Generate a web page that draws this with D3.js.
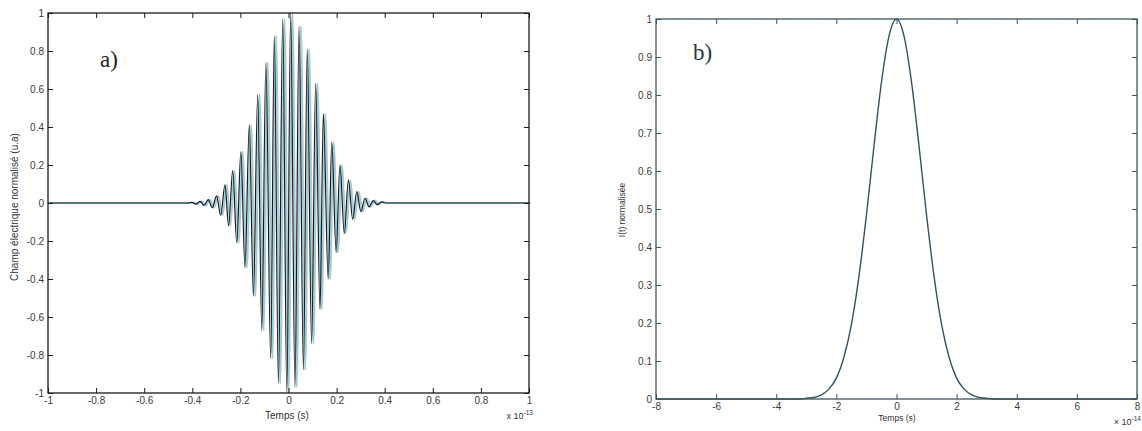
<!DOCTYPE html>
<html>
<head>
<meta charset="utf-8">
<script src="https://cdn.jsdelivr.net/npm/d3@7"></script>
<style>
  body { margin: 0; background: #fff; }
  .tick text { font-family: "Liberation Sans", Arial, sans-serif; font-size: 10px; fill: #3a3a3a; }
</style>
</head>
<body>
<script>
// ---------------------- data ----------------------
// a) electric field: baseline ends + extrema of the oscillation (x 1e-13 s)
var fieldT = [-1, -0.42, -0.402, -0.385, -0.368, -0.351, -0.334, -0.317, -0.299, -0.282, -0.264, -0.249,
  -0.232, -0.215, -0.198, -0.181, -0.163, -0.146, -0.128, -0.111, -0.094, -0.074, -0.059, -0.042,
  -0.024, -0.007, 0.009, 0.027, 0.044, 0.062, 0.078, 0.096, 0.113, 0.131, 0.145, 0.165, 0.180,
  0.198, 0.214, 0.232, 0.249, 0.267, 0.284, 0.301, 0.318, 0.335, 0.352, 0.369, 0.386, 0.403, 0.42, 1];
var fieldE = [0, 0, 0.003, -0.006, 0.009, -0.013, 0.018, -0.025, 0.038, -0.064, 0.095, -0.12,
  0.17, -0.21, 0.27, -0.34, 0.41, -0.49, 0.57, -0.67, 0.74, -0.82, 0.88, -0.95,
  0.97, -1.0, 1.0, -0.97, 0.93, -0.88, 0.81, -0.74, 0.63, -0.56, 0.47, -0.40, 0.32,
  -0.26, 0.20, -0.16, 0.12, -0.085, 0.06, -0.045, 0.025, -0.02, 0.013, -0.009, 0.006, 0, 0, 0];

// b) normalised intensity (x 1e-14 s)
var intensT = [-8, -3.2, -3, -2.75, -2.5, -2.25, -2, -1.75, -1.5, -1.25, -1, -0.75, -0.5, -0.25, 0,
  0.25, 0.5, 0.75, 1, 1.25, 1.5, 1.75, 2, 2.25, 2.5, 2.75, 3, 3.2, 8];
var intensI = [0, 0, 0.002, 0.004, 0.011, 0.026, 0.055, 0.11, 0.196, 0.322, 0.484, 0.665, 0.834, 0.955, 1,
  0.955, 0.834, 0.665, 0.484, 0.322, 0.196, 0.11, 0.055, 0.026, 0.011, 0.004, 0.002, 0, 0];

var aXTicks = [-1, -0.8, -0.6, -0.4, -0.2, 0, 0.2, 0.4, 0.6, 0.8, 1];
var aYTicks = [-1, -0.8, -0.6, -0.4, -0.2, 0, 0.2, 0.4, 0.6, 0.8, 1];
var bXTicks = [-8, -6, -4, -2, 0, 2, 4, 6, 8];
var bYTicks = [0, 0.1, 0.2, 0.3, 0.4, 0.5, 0.6, 0.7, 0.8, 0.9, 1];

var svg = d3.select("body")
     .append("svg")
     .attr("width", 1142)
     .attr("height", 431);

svg.append("rect").attr("width", 1142).attr("height", 431).attr("fill", "#fff");

// plain hyphen minus like matlab
var fmt = function (d) { return String(d); };

// draws one matlab style box with ticks inside on all four sides
function drawBox(g, x, y, xt, yt, w, h, col) {
  var tl = 5;
  var bottom = g.append("g").attr("transform", "translate(0," + h + ")")
       .call(d3.axisBottom(x).tickValues(xt).tickSize(-tl).tickPadding(4).tickFormat(fmt));
  var top = g.append("g")
       .call(d3.axisTop(x).tickValues(xt).tickSize(-tl).tickFormat(""));
  var left = g.append("g")
       .call(d3.axisLeft(y).tickValues(yt).tickSize(-tl).tickPadding(4).tickFormat(fmt));
  var right = g.append("g").attr("transform", "translate(" + w + ",0)")
       .call(d3.axisRight(y).tickValues(yt).tickSize(-tl).tickFormat(""));
  [bottom, top, left, right].forEach(function (a) {
    a.selectAll(".domain").remove();
    a.selectAll("line").attr("stroke", col).attr("stroke-width", 1);
  });
  g.append("rect").attr("width", w).attr("height", h)
       .attr("fill", "none").attr("stroke", col).attr("stroke-width", 1.3);
}

// ---------------------- panel a ----------------------
var aL = 48, aT = 13, aW = 481, aH = 380;
var ga = svg.append("g").attr("transform", "translate(" + aL + "," + aT + ")");
var xa = d3.scaleLinear().domain([-1, 1]).range([0, aW]);
var ya = d3.scaleLinear().domain([-1, 1]).range([aH, 0]);

var fieldPts = d3.zip(fieldT, fieldE);
var lineA = d3.line().x(function (d) { return xa(d[0]); }).y(function (d) { return ya(d[1]); })
     .curve(d3.curveMonotoneX);

ga.append("path").datum(fieldPts).attr("d", lineA)
     .attr("fill", "none").attr("stroke", "#9fcbdb").attr("stroke-width", 2)
     .attr("transform", "translate(1.8,0)");
ga.append("path").datum(fieldPts).attr("d", lineA)
     .attr("fill", "none").attr("stroke", "#1a1a1a").attr("stroke-width", 1.2);

drawBox(ga, xa, ya, aXTicks, aYTicks, aW, aH, "#1a1a1a");

ga.append("text").text("a)")
     .attr("x", 52).attr("y", 54)
     .style("font-family", "'Liberation Serif', 'Times New Roman', serif")
     .style("font-size", "23px").attr("fill", "#222");

svg.append("text").text("Temps (s)")
     .attr("x", 287).attr("y", 419).attr("text-anchor", "middle")
     .style("font-family", "'Liberation Sans', Arial, sans-serif").style("font-size", "10px").attr("fill", "#333");

var expA = svg.append("text").attr("x", 533).attr("y", 419).attr("text-anchor", "end")
     .style("font-family", "'Liberation Sans', Arial, sans-serif").style("font-size", "9px").attr("fill", "#333");
expA.append("tspan").text("x 10");
expA.append("tspan").text("-13").attr("dy", -4).style("font-size", "6.5px");

svg.append("text").text("Champ électrique normalisé (u.a)")
     .attr("transform", "translate(18,207) rotate(-90)").attr("text-anchor", "middle")
     .style("font-family", "'Liberation Sans', Arial, sans-serif").style("font-size", "10px").attr("fill", "#333");

// ---------------------- panel b ----------------------
var bL = 656, bT = 19, bW = 481, bH = 380;
var gb = svg.append("g").attr("transform", "translate(" + bL + "," + bT + ")");
var xb = d3.scaleLinear().domain([-8, 8]).range([0, bW]);
var yb = d3.scaleLinear().domain([0, 1]).range([bH, 0]);

var lineB = d3.line().x(function (d) { return xb(d[0]); }).y(function (d) { return yb(d[1]); })
     .curve(d3.curveMonotoneX);

gb.append("path").datum(d3.zip(intensT, intensI)).attr("d", lineB)
     .attr("fill", "none").attr("stroke", "#35525e").attr("stroke-width", 1.4);

drawBox(gb, xb, yb, bXTicks, bYTicks, bW, bH, "#3b5662");

gb.append("text").text("b)")
     .attr("x", 37).attr("y", 41)
     .style("font-family", "'Liberation Serif', 'Times New Roman', serif")
     .style("font-size", "23px").attr("fill", "#2a3a44");

svg.append("text").text("Temps (s)")
     .attr("x", 897).attr("y", 421).attr("text-anchor", "middle")
     .style("font-family", "'Liberation Sans', Arial, sans-serif").style("font-size", "8.5px").attr("fill", "#333");

var expB = svg.append("text").attr("x", 1141).attr("y", 425).attr("text-anchor", "end")
     .style("font-family", "'Liberation Sans', Arial, sans-serif").style("font-size", "9px").attr("fill", "#333");
expB.append("tspan").text("× 10");
expB.append("tspan").text("-14").attr("dy", -4).style("font-size", "6.5px");

svg.append("text").text("I(t) normalisée")
     .attr("transform", "translate(625,210) rotate(-90)").attr("text-anchor", "middle")
     .style("font-family", "'Liberation Sans', Arial, sans-serif").style("font-size", "8.5px").attr("fill", "#333");
</script>
</body>
</html>
